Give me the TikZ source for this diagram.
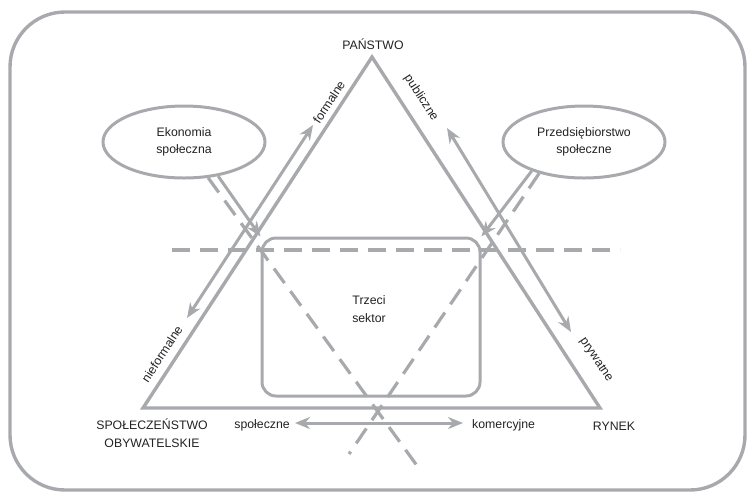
\documentclass[tikz,border=0pt]{standalone}
\usepackage{fontspec}
\setmainfont{Liberation Sans}
\usetikzlibrary{shapes.geometric,arrows.meta}
\definecolor{linegray}{HTML}{A8A9AD}
\definecolor{textgray}{HTML}{222222}
\tikzset{
  frame/.style={draw=linegray, line width=3.4pt, rounded corners=55pt},
  tri/.style={draw=linegray, line width=3.4pt, line join=miter},
  sectorbox/.style={draw=linegray, line width=3pt, rounded corners=14pt, minimum width=218pt, minimum height=158pt, inner sep=0pt},
  oval/.style={ellipse, draw=linegray, line width=3pt, minimum width=162pt, minimum height=72pt, inner sep=0pt, align=center, text=textgray, font=\fontsize{12.3}{17}\selectfont},
  lbl/.style={text=textgray, font=\fontsize{12.3}{17.5}\selectfont, align=center, inner sep=1pt},
  flow/.style={draw=linegray, line width=3pt, {Stealth[length=15pt,width=12pt]}-{Stealth[length=15pt,width=12pt]}},
  oneway/.style={draw=linegray, line width=3pt, -{Stealth[length=15pt,width=12pt]}},
  dashline/.style={draw=linegray, line width=3.2pt, dash pattern=on 18pt off 10pt},
}
\begin{document}
\begin{tikzpicture}[x=1pt, y=-1pt]
  \useasboundingbox (0,0) rectangle (751,496);
  % outer frame
  \draw[frame] (10,12) rectangle (745,490);

  % corners of the triangle
  \coordinate (state) at (372,57);
  \coordinate (civil) at (143,408);
  \coordinate (market) at (600,408);
  \draw[tri] (state) -- (market) -- (civil) -- cycle;

  % third sector box
  \node[sectorbox] (sector) at (371,317) {};
  \node[lbl] (sectortext) at (369,309) {Trzeci\\sektor};

  % vertex labels
  \node[lbl] (statelbl) at (373,44) {PAŃSTWO};
  \node[lbl] (civillbl) at (152,433) {SPOŁECZEŃSTWO\\OBYWATELSKIE};
  \node[lbl] (marketlbl) at (614,426) {RYNEK};

  % the two social-economy ovals
  \node[oval] (eko) at (184,142) {Ekonomia\\społeczna};
  \node[oval] (przed) at (584,142) {Przedsiębiorstwo\\społeczne};

  % dashed guide lines
  \coordinate (hl) at (172,250);
  \coordinate (hr) at (620,250);
  \draw[dashline] (hl) -- (hr);
  \coordinate (dl) at (418,467);
  \coordinate (dr) at (349,454);
  \draw[dashline] (eko.-56) -- (dl);
  \draw[dashline] (przed.-145) -- (dr);

  % arrows from the ovals into the third sector
  \draw[oneway] (eko.-45) -- (sector.north west);
  \draw[oneway] (przed.-151) -- (sector.north east);

  % two-way axes
  \coordinate (la) at (187,318);
  \coordinate (lb) at (313,125);
  \draw[flow] (la) -- (lb);
  \coordinate (ra) at (447,128);
  \coordinate (rb) at (571,332);
  \draw[flow] (ra) -- (rb);

  \node[lbl, anchor=east] (spol) at (291,425) {społeczne};
  \node[lbl, anchor=west] (kom) at (471,425) {komercyjne};
  \draw[flow] ([xshift=4pt,yshift=2pt]spol.east) -- ([xshift=-8pt,yshift=2pt]kom.west);

  % axis labels along the triangle sides
  \node[lbl, rotate=57] (formal) at (329,102) {formalne};
  \node[lbl, rotate=57] (informal) at (162,354) {nieformalne};
  \node[lbl, rotate=-57] (public) at (421,98) {publiczne};
  \node[lbl, rotate=-56] (private) at (596,360) {prywatne};
\end{tikzpicture}
\end{document}
